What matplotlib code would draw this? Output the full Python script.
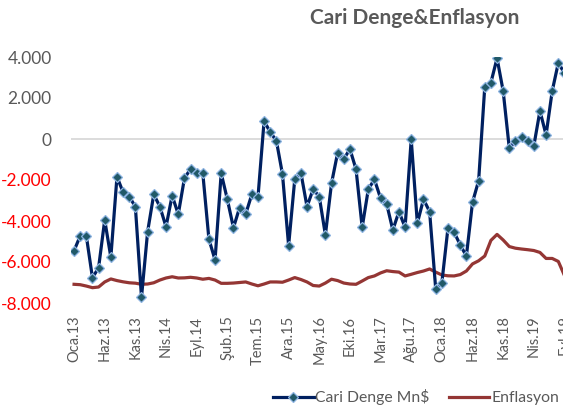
import numpy as np
import matplotlib
matplotlib.use('Agg')
import matplotlib.pyplot as plt
from matplotlib.lines import Line2D

plt.rcParams['font.family'] = ['Lato', 'DejaVu Sans']

# Cari denge (milyon $), aylik, Oca.13'ten itibaren
cari_denge = [-5450, -4730, -4730, -6770, -6280, -3950, -5770, -1840, -2600, -2810,
              -3300, -7720, -4520, -2700, -3300, -4280, -2760, -3670, -1920, -1460,
              -1640, -1670, -4890, -5900, -1670, -2940, -4330, -3350, -3660, -2700,
              -2840, 880, 330, -80, -1720, -5200, -1970, -1640, -3300, -2450,
              -2810, -4680, -2160, -670, -980, -490, -1480, -4310, -2450, -1970,
              -2890, -3170, -4440, -3540, -4310, -20, -4110, -2940, -3540, -7330,
              -7010, -4330, -4550, -5170, -5710, -3090, -2030, 2550, 2750, 3940,
              2340, -450, -100, 80, -80, -340, 1370, 200, 2340, 3720, 3200]

# Enflasyon (%), ayni donem
enflasyon = [6.84, 6.7, 6.2, 5.6, 5.85, 7.7, 8.8, 8.2, 7.75, 7.4,
             7.25, 6.85, 6.95, 7.4, 8.4, 9.15, 9.6, 9.15, 9.2, 9.4,
             9.15, 8.7, 9.0, 8.4, 7.2, 7.2, 7.3, 7.5, 7.7, 6.95,
             6.3, 6.95, 7.7, 7.7, 7.6, 8.4, 9.3, 8.6, 7.7, 6.4,
             6.2, 7.3, 8.7, 8.2, 7.3, 6.95, 6.84, 8.05, 9.3, 9.9,
             11.0, 11.8, 11.5, 11.3, 9.9, 10.5, 11.15, 11.7, 12.45, 11.3,
             10.25, 9.95, 9.9, 10.4, 11.7, 14.3, 15.45, 17.2, 22.9, 25.1,
             23.05, 20.65, 20.05, 19.75, 19.5, 19.2, 18.5, 16.3, 16.3, 15.2, 10.05]

x_labels = ['Oca.13', 'Haz.13', 'Kas.13', 'Nis.14', 'Eyl.14', 'Şub.15', 'Tem.15',
            'Ara.15', 'May.16', 'Eki.16', 'Mar.17', 'Ağu.17', 'Oca.18', 'Haz.18',
            'Kas.18', 'Nis.19', 'Eyl.19']
y_ticks = [-8000, -6000, -4000, -2000, 0, 2000, 4000]
y_labels = ['-8.000', '-6.000', '-4.000', '-2.000', '0', '2.000', '4.000']

W, H = 563, 408
fig = plt.figure(figsize=(W / 100, H / 100), dpi=100)

# plot alani (piksel), grafik sagda kesik
step = 6.13
left, right = 71, 71 + 86 * step
top, bottom = 57, 303
ax = fig.add_axes([left / W, 1 - bottom / H, (right - left) / W, (bottom - top) / H])

n = len(cari_denge)
x = np.arange(n)

gray = '#595959'

ax.axhline(0, color='#d9d9d9', lw=1.3, zorder=1)
ax.plot(x, cari_denge, color='#002060', lw=2.3, marker='D', markersize=5.2,
        markerfacecolor='#215968', markeredgecolor='#8db4e2', markeredgewidth=0.9,
        zorder=4)
ax.set_xlim(-0.5, 85.5)
ax.set_ylim(-8000, 4000)
ax.set_yticks(y_ticks)
ax.set_yticklabels(y_labels)
ax.tick_params(axis='y', length=0, pad=14, labelsize=12.5, labelcolor=gray)
for t, v in zip(ax.get_yticklabels(), y_ticks):
    t.set_color('red' if v < 0 else gray)
ax.set_xticks(np.arange(0, 5 * len(x_labels), 5))
ax.set_xticklabels(x_labels, rotation=90)
ax.tick_params(axis='x', length=0, pad=9, labelsize=10.5, labelcolor=gray)
for s in ax.spines.values():
    s.set_visible(False)

# enflasyon ikincil eksende (gizli)
ax_r = ax.twinx()
ax_r.plot(x, enflasyon, color='#943634', lw=2.3, zorder=3)
ax_r.set_ylim(0, 90)
ax_r.axis('off')
ax.set_zorder(ax_r.get_zorder() + 1)
ax.patch.set_visible(False)

fig.text(415 / W, 1 - 18 / H, 'Cari Denge&Enflasyon', ha='center', va='center',
         fontsize=15, fontweight='bold', color=gray)

handles = [Line2D([], [], color='#002060', lw=2.3, marker='D', markersize=5.2,
                  markerfacecolor='#215968', markeredgecolor='#8db4e2', markeredgewidth=0.9),
           Line2D([], [], color='#943634', lw=2.3)]
fig.legend(handles, ['Cari Denge Mn$', 'Enflasyon'], loc='center',
           bbox_to_anchor=(416 / W, 1 - 397 / H), ncol=2, frameon=False,
           fontsize=11.3, labelcolor=gray, handlelength=2.6, handletextpad=0.1,
           columnspacing=1.2, borderpad=0.2)

fig.savefig('out.png', dpi=100)
